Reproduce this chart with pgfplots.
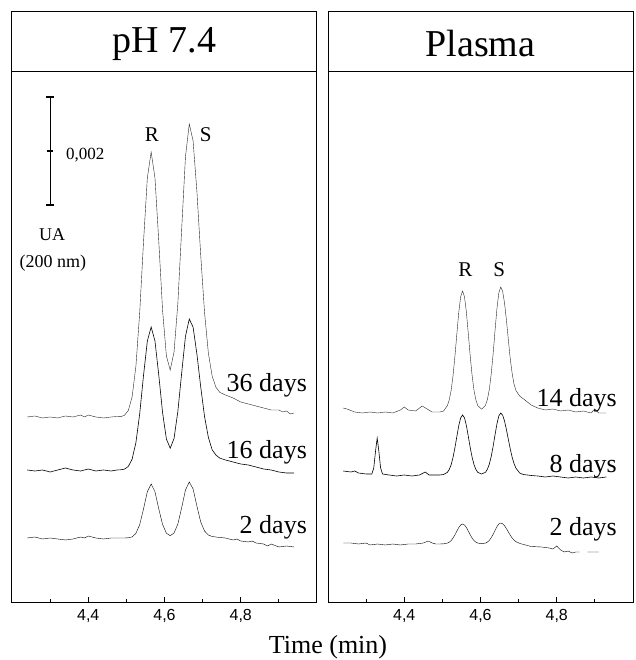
\documentclass[border=0pt]{standalone}
\usepackage{fontspec}
\setmainfont{Liberation Serif}
\setsansfont{Liberation Sans}
\usepackage{pgfplots}
\pgfplotsset{compat=1.18}

\pgfplotsset{
  chrom/.style={
    width=305pt, height=591pt, scale only axis,
    xmin=4.2, xmax=5.0, ymin=57, ymax=648,
    xtick={4.4,4.6,4.8}, xticklabels={{4,4},{4,6},{4,8}},
    minor xtick={4.3,4.5,4.7,4.9}, ytick=\empty,
    xtick pos=bottom, tick align=inside,
    major tick length=6pt, minor tick length=3.5pt,
    tick style={black, line width=0.8pt},
    axis line style={line width=1pt},
    x tick label style={font=\sffamily\fontsize{16}{16}\selectfont, yshift=-3pt},
    clip=false, unbounded coords=jump,
    cycle list={{black!85, line width=0.6pt, mark=none}},
  },
}
\tikzset{
  lab/.style={font=\fontsize{26}{26}\selectfont, anchor=east, inner sep=0pt},
  pk/.style={font=\fontsize{21}{21}\selectfont},
}

\begin{document}
\begin{tikzpicture}
\useasboundingbox (0,0) rectangle (635pt,660pt);

% ---- pH 7.4 ----
\begin{axis}[chrom, at={(12pt,57pt)}, anchor=south west]
% 36 days
\addplot coordinates {(4.24,243)(4.26,244)(4.28,242)(4.30,243)(4.32,242)(4.34,244)(4.36,243)(4.38,245)(4.39,243)(4.40,245)(4.42,243)(4.44,242)(4.46,243)(4.475,243.5)
(4.485,243.3)(4.495,244.7)(4.505,249.4)(4.515,263.0)(4.525,293.7)(4.535,347.6)(4.545,418.3)(4.555,482.0)(4.565,508)(4.575,482.1)(4.585,418.7)(4.595,349.4)(4.605,304)(4.615,290)(4.625,308)(4.635,356.4)(4.645,430.5)(4.655,503.3)(4.665,536)(4.675,519.2)(4.685,468.5)(4.695,404.8)(4.705,347.7)(4.715,307.2)(4.725,283.8)(4.735,272.7)(4.745,267.7)
(4.76,265)(4.78,262)(4.80,258)(4.82,256)(4.84,254)(4.86,252)(4.88,250)(4.90,250)(4.91,248)(4.92,249)(4.93,246)(4.94,247)};
% 16 days
\addplot coordinates {(4.24,190)(4.26,189)(4.28,190)(4.30,188)(4.32,190)(4.34,192)(4.36,190)(4.38,189)(4.40,191)(4.42,189)(4.44,190)(4.46,189)(4.475,190)
(4.485,190.2)(4.495,190.9)(4.505,193.5)(4.515,200.8)(4.525,217.4)(4.535,246.4)(4.545,284.6)(4.555,319.0)(4.565,333)(4.575,319.0)(4.585,284.8)(4.595,247.3)(4.605,220.9)(4.615,211.8)(4.625,221.5)(4.635,248.5)(4.645,286.8)(4.655,323.7)(4.665,341)(4.675,332.8)(4.685,306)(4.695,273.1)(4.705,243.6)(4.715,222.7)(4.725,210.2)(4.735,204.9)(4.745,201.9)
(4.76,200)(4.78,198)(4.80,196)(4.82,195)(4.84,193)(4.86,191)(4.88,190)(4.90,188)(4.92,187)(4.94,187)};
% 2 days
\addplot coordinates {(4.24,122)(4.26,123)(4.28,121)(4.30,122)(4.32,121)(4.34,120)(4.36,121)(4.38,123)(4.39,122)(4.40,124)(4.42,122)(4.44,121)(4.46,122)(4.48,122)
(4.495,122)(4.505,122.2)(4.515,123.1)(4.525,126.6)(4.535,135.4)(4.545,151.1)(4.555,168.3)(4.565,176)(4.575,168.3)(4.585,151.1)(4.595,135.5)(4.605,126.8)(4.615,124.3)(4.625,127.0)(4.635,135.9)(4.645,152.2)(4.655,170.0)(4.665,178)(4.675,171)(4.685,154)(4.695,138)(4.705,129)(4.715,125)(4.725,123.5)(4.735,123)(4.745,122.5)
(4.76,122)(4.78,120)(4.79,121)(4.80,119)(4.82,118)(4.83,119)(4.84,117)(4.86,116)(4.87,114)(4.88,116)(4.90,113)(4.92,114)(4.94,113)};
% scale bar
\addplot[black, line width=1.2pt] coordinates {(4.30,563)(4.30,455)};
\addplot[black, line width=1.2pt] coordinates {(4.29,563)(4.31,563)};
\addplot[black, line width=1.2pt] coordinates {(4.29,455)(4.31,455)};
\addplot[black, line width=1.2pt] coordinates {(4.293,509)(4.307,509)};
\node[font=\fontsize{17}{17}\selectfont, anchor=west] at (axis cs:4.333,505) {0,002};
\node[font=\fontsize{18}{18}\selectfont] at (axis cs:4.305,425) {UA};
\node[font=\fontsize{18}{18}\selectfont] at (axis cs:4.307,397) {(200 nm)};
\node[pk] at (axis cs:4.567,525) {R};
\node[pk] at (axis cs:4.708,525) {S};
\node[lab] at (axis cs:4.974,275) {36 days};
\node[lab] at (axis cs:4.974,208) {16 days};
\node[lab] at (axis cs:4.974,133) {2 days};
% title box
\draw[line width=1pt] (axis cs:4.2,588) -- (axis cs:5.0,588);
\node[font=\fontsize{38}{38}\selectfont] at (axis cs:4.6,616) {pH 7.4};
\end{axis}

% ---- Plasma ----
\begin{axis}[chrom, at={(328pt,57pt)}, anchor=south west]
% 14 days
\addplot coordinates {(4.24,252)(4.25,251)(4.27,248)(4.29,247)(4.31,248)(4.33,247)(4.35,248)(4.37,247)(4.39,250)(4.40,253)(4.41,250)(4.43,249)(4.447,254)(4.46,251)(4.473,248)
(4.493,248)(4.503,248.9)(4.513,254.3)(4.518,260.0)(4.523,269.6)(4.528,284.4)(4.533,304.0)(4.538,326.3)(4.543,347.7)(4.548,363.2)(4.553,369)(4.558,363.2)(4.563,347.7)(4.568,326.3)(4.573,304.0)(4.578,284.4)(4.583,269.6)(4.588,260.0)(4.593,254.3)(4.603,250.8)(4.613,254.6)(4.618,260.3)(4.623,270.3)(4.628,285.6)(4.633,305.8)(4.638,328.9)(4.643,351)(4.648,367)(4.653,373)(4.658,368.8)(4.663,357)(4.668,339.8)(4.673,320.3)(4.678,301.2)(4.683,286.6)(4.688,275.7)(4.693,269.5)(4.703,263.8)(4.713,261)(4.723,258)(4.733,255)
(4.75,252)(4.77,250)(4.79,251)(4.81,249)(4.83,250)(4.85,248)(4.87,249)(4.89,247)(4.90,251)(4.91,247)(4.93,247)};
% 8 days
\addplot coordinates {(4.24,189)(4.26,188)(4.27,189)(4.28,187)(4.30,186)(4.315,186)(4.320,192)(4.325,210)(4.329,222)(4.333,210)(4.338,192)(4.343,186)(4.36,185)(4.38,184)(4.40,185)(4.42,184)(4.44,185)(4.455,188)(4.465,185)
(4.473,185)(4.493,185)(4.503,185.5)(4.513,187.6)(4.518,190.5)(4.523,195.3)(4.528,202.7)(4.533,212.5)(4.538,223.6)(4.543,234.4)(4.548,242.1)(4.553,245)(4.558,242.1)(4.563,234.4)(4.568,223.6)(4.573,212.5)(4.578,202.7)(4.583,195.3)(4.588,190.5)(4.593,187.6)(4.603,186.0)(4.613,187.7)(4.618,190.7)(4.623,195.7)(4.628,203.3)(4.633,213.4)(4.638,224.9)(4.643,236)(4.648,244)(4.653,247)(4.658,244.9)(4.663,239)(4.668,230.4)(4.673,220.7)(4.678,211.1)(4.683,202.8)(4.688,196.3)(4.693,191.8)(4.703,186.9)(4.713,185.4)(4.723,185)(4.733,184.5)
(4.75,184)(4.77,183)(4.79,184)(4.81,183)(4.83,182)(4.85,183)(4.87,182)(4.89,183)(4.91,182)(4.93,183)};
% 2 days
\addplot coordinates {(4.24,117)(4.26,117)(4.28,116)(4.30,117)(4.31,115)(4.33,116)(4.35,115)(4.37,116)(4.39,115)(4.41,116)(4.43,116)(4.45,117)(4.463,119)(4.473,117)
(4.483,116)(4.493,116)(4.503,116.2)(4.513,116.9)(4.518,117.8)(4.523,119.4)(4.528,121.9)(4.533,125.2)(4.538,128.9)(4.543,132.5)(4.548,135.0)(4.553,136)(4.558,135.0)(4.563,132.5)(4.568,128.9)(4.573,125.2)(4.578,121.9)(4.583,119.4)(4.588,117.8)(4.593,116.9)(4.603,116.3)(4.613,116.9)(4.618,117.9)(4.623,119.6)(4.628,122.2)(4.633,125.6)(4.638,129.5)(4.643,133.3)(4.648,136.0)(4.653,137)(4.658,136.3)(4.663,134.3)(4.668,131.4)(4.673,128.1)(4.678,124.8)(4.683,122.0)(4.688,119.8)(4.693,118.3)(4.703,116.6)(4.713,115.5)(4.723,114.5)(4.733,113.5)
(4.76,113)(4.78,112)(4.79,111)(4.80,114)(4.81,110)(4.82,108)(4.83,109)(4.84,107)(4.85,108)(4.86,108)(4.87,nan)(4.88,108)(4.91,108)};
\node[pk] at (axis cs:4.56,390) {R};
\node[pk] at (axis cs:4.649,390) {S};
\node[lab] at (axis cs:4.958,260) {14 days};
\node[lab] at (axis cs:4.958,194) {8 days};
\node[lab] at (axis cs:4.958,131) {2 days};
\draw[line width=1pt] (axis cs:4.2,588) -- (axis cs:5.0,588);
\node[font=\fontsize{38}{38}\selectfont] at (axis cs:4.6,616) {Plasma};
\end{axis}

\node[font=\fontsize{26}{26}\selectfont] at (328pt,13pt) {Time (min)};
\end{tikzpicture}
\end{document}
